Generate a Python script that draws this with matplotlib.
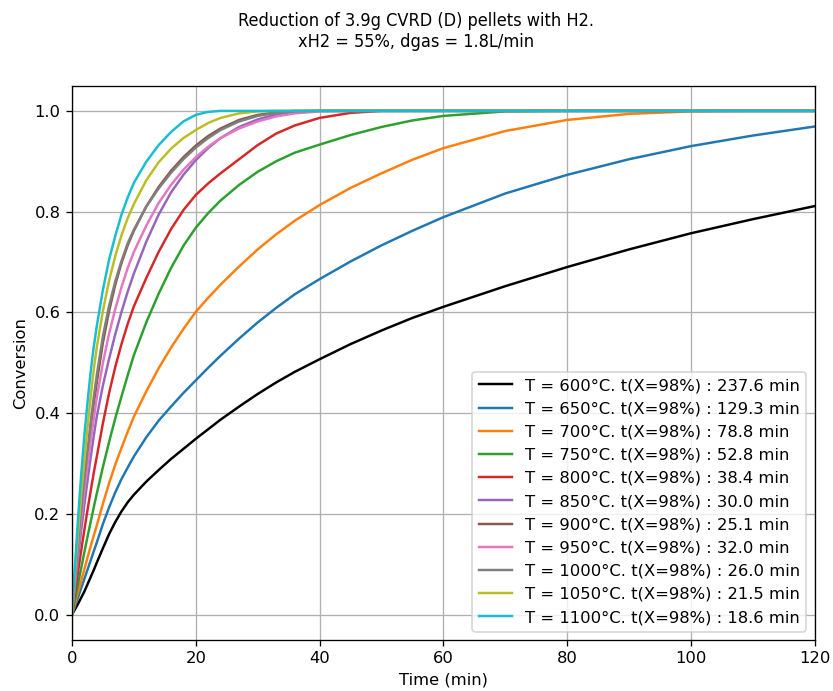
import matplotlib
matplotlib.use("Agg")
import matplotlib.pyplot as plt

# time grid (min)
time_min = [0, 0.5, 1, 1.5, 2, 2.5, 3, 3.5, 4, 5, 6, 7, 8, 9, 10, 12, 14, 16, 18,
            20, 22, 24, 27, 30, 33, 36, 40, 45, 50, 55, 60, 70, 80, 90, 100, 110, 120]

temperatures = [600, 650, 700, 750, 800, 850, 900, 950, 1000, 1050, 1100]
t98 = [237.6, 129.3, 78.8, 52.8, 38.4, 30.0, 25.1, 32.0, 26.0, 21.5, 18.6]

x_600 = [0, 0.011, 0.022, 0.034, 0.046, 0.060, 0.074, 0.088, 0.103, 0.132, 0.160,
         0.184, 0.205, 0.223, 0.238, 0.264, 0.287, 0.309, 0.329, 0.349, 0.368,
         0.387, 0.413, 0.438, 0.461, 0.482, 0.507, 0.537, 0.564, 0.589, 0.611,
         0.652, 0.690, 0.725, 0.757, 0.785, 0.811]
x_650 = [0, 0.018, 0.035, 0.053, 0.071, 0.089, 0.107, 0.125, 0.143, 0.180, 0.213,
         0.243, 0.269, 0.292, 0.314, 0.352, 0.385, 0.413, 0.440, 0.465, 0.490,
         0.514, 0.548, 0.580, 0.609, 0.636, 0.666, 0.701, 0.733, 0.762, 0.789,
         0.836, 0.873, 0.904, 0.930, 0.951, 0.969]
x_700 = [0, 0.023, 0.046, 0.068, 0.090, 0.113, 0.135, 0.156, 0.177, 0.220, 0.261,
         0.298, 0.331, 0.363, 0.393, 0.443, 0.489, 0.530, 0.567, 0.601, 0.629,
         0.655, 0.691, 0.725, 0.755, 0.782, 0.813, 0.847, 0.876, 0.903, 0.926,
         0.960, 0.982, 0.994, 0.999, 1.0, 1.0]
x_750 = [0, 0.031, 0.062, 0.093, 0.124, 0.154, 0.183, 0.212, 0.240, 0.293, 0.343,
         0.390, 0.433, 0.475, 0.515, 0.580, 0.637, 0.688, 0.732, 0.768, 0.797,
         0.822, 0.853, 0.879, 0.900, 0.917, 0.933, 0.952, 0.968, 0.981, 0.990,
         0.999, 1.0, 1.0, 1.0, 1.0, 1.0]
x_800 = [0, 0.044, 0.087, 0.128, 0.168, 0.207, 0.244, 0.280, 0.313, 0.380, 0.440,
         0.492, 0.537, 0.577, 0.612, 0.668, 0.720, 0.765, 0.803, 0.833, 0.856,
         0.876, 0.904, 0.932, 0.955, 0.971, 0.986, 0.996, 1.0, 1.0, 1.0,
         1.0, 1.0, 1.0, 1.0, 1.0, 1.0]
x_850 = [0, 0.058, 0.114, 0.168, 0.218, 0.265, 0.310, 0.353, 0.393, 0.455, 0.508,
         0.557, 0.601, 0.641, 0.677, 0.740, 0.794, 0.838, 0.873, 0.902, 0.926,
         0.946, 0.968, 0.983, 0.993, 0.998, 1.0, 1.0, 1.0, 1.0, 1.0,
         1.0, 1.0, 1.0, 1.0, 1.0, 1.0]
x_900 = [0, 0.072, 0.140, 0.202, 0.260, 0.315, 0.367, 0.415, 0.460, 0.540, 0.603,
         0.655, 0.698, 0.733, 0.762, 0.810, 0.849, 0.881, 0.908, 0.931, 0.950,
         0.965, 0.982, 0.992, 0.997, 1.0, 1.0, 1.0, 1.0, 1.0, 1.0,
         1.0, 1.0, 1.0, 1.0, 1.0, 1.0]
x_950 = [0, 0.068, 0.132, 0.190, 0.245, 0.295, 0.343, 0.388, 0.430, 0.500, 0.558,
         0.607, 0.650, 0.688, 0.720, 0.772, 0.817, 0.853, 0.883, 0.908, 0.929,
         0.946, 0.965, 0.979, 0.989, 0.995, 0.999, 1.0, 1.0, 1.0, 1.0,
         1.0, 1.0, 1.0, 1.0, 1.0, 1.0]
x_1000 = [0, 0.075, 0.145, 0.210, 0.270, 0.325, 0.380, 0.430, 0.475, 0.553, 0.613,
          0.662, 0.702, 0.737, 0.764, 0.810, 0.846, 0.877, 0.904, 0.927, 0.946,
          0.962, 0.979, 0.990, 0.996, 0.999, 1.0, 1.0, 1.0, 1.0, 1.0,
          1.0, 1.0, 1.0, 1.0, 1.0, 1.0]
x_1050 = [0, 0.085, 0.165, 0.240, 0.305, 0.370, 0.430, 0.485, 0.530, 0.603, 0.663,
          0.712, 0.753, 0.787, 0.815, 0.862, 0.898, 0.925, 0.946, 0.962, 0.976,
          0.986, 0.995, 0.999, 1.0, 1.0, 1.0, 1.0, 1.0, 1.0, 1.0,
          1.0, 1.0, 1.0, 1.0, 1.0, 1.0]
x_1100 = [0, 0.100, 0.195, 0.280, 0.355, 0.420, 0.480, 0.530, 0.572, 0.645, 0.705,
          0.752, 0.794, 0.828, 0.857, 0.899, 0.932, 0.958, 0.979, 0.992, 0.998,
          1.0, 1.0, 1.0, 1.0, 1.0, 1.0, 1.0, 1.0, 1.0, 1.0,
          1.0, 1.0, 1.0, 1.0, 1.0, 1.0]

conversions = [x_600, x_650, x_700, x_750, x_800, x_850, x_900, x_950,
               x_1000, x_1050, x_1100]
colors = ["k", "C0", "C1", "C2", "C3", "C4", "C5", "C6", "C7", "C8", "C9"]


def main():
    fig = plt.figure(figsize=(833 / 118, 691 / 118), dpi=118)
    ax = fig.add_axes([0.0864, 0.074, 0.8916, 0.802])

    for temp, tt, conv, col in zip(temperatures, t98, conversions, colors):
        ax.plot(time_min, conv, color=col,
                label=f"T = {temp}°C. t(X=98%) : {tt:.1f} min")

    ax.set_xlim(0, 120)
    ax.set_ylim(-0.05, 1.05)
    ax.set_xlabel("Time (min)")
    ax.set_ylabel("Conversion")
    ax.grid(True)
    ax.legend(loc="lower right")
    fig.suptitle("Reduction of 3.9g CVRD (D) pellets with H2.\nxH2 = 55%, dgas = 1.8L/min",
                 y=0.982, fontsize=11, fontstretch="condensed")

    fig.savefig("out.png", dpi=118)


if __name__ == "__main__":
    main()
